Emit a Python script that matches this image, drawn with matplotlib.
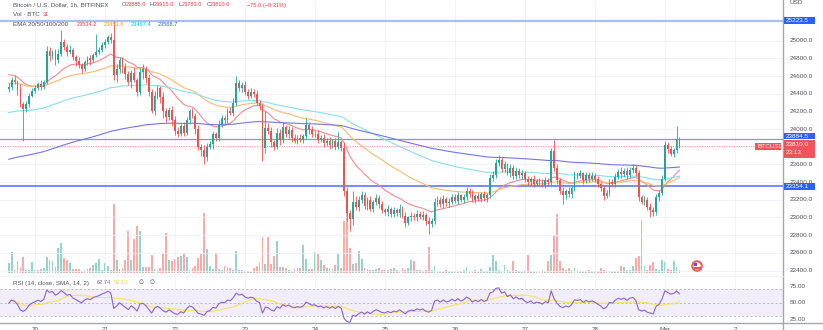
import matplotlib
matplotlib.use('Agg')
import matplotlib.pyplot as plt
from matplotlib.patches import Rectangle, Circle
from matplotlib.lines import Line2D
import numpy as np
import pandas as pd

plt.rcParams['font.family'] = ['Liberation Sans', 'DejaVu Sans']

# BTCUSD 1h candles (Bitfinex). Bar index 0 = Feb 20 00:00, first bar at -9.
first_bar = -9
first_open = 24450.0

closes = [
    # Feb 19 (tail)
    24480, 24560, 24530, 24450, 24280, 24230, 24280, 24380, 24430,
    # Feb 20
    24470, 24510, 24480, 24530, 24880, 24830, 24870, 24780, 24850, 24980, 24930, 24870,
    24900, 24810, 24770, 24720, 24680, 24760, 24800, 24780, 24840, 24870, 24900, 24950,
    # Feb 21
    24980, 25040, 25010, 24610, 24680, 24780, 24700, 24620, 24530, 24640, 24560, 24420,
    24650, 24680, 24580, 24420, 24210, 24380, 24460, 24360, 24200, 24140, 24220, 24100,
    # Feb 22
    23980, 23950, 24030, 23960, 24100, 24200, 24150, 24000, 23800, 23760, 23680, 23800,
    23830, 23940, 23900, 24050, 24120, 24100, 24200, 24180, 24300, 24520, 24460, 24500,
    # Feb 23
    24420, 24380, 24420, 24400, 24300, 24260, 23790, 24010, 23980, 23850, 23800, 23960,
    23880, 24020, 23940, 23990, 23900, 23870, 23900, 23880, 23920, 24050, 23990, 23940,
    # Feb 24
    23950, 23880, 23900, 23840, 23870, 23820, 23860, 23800, 23850, 23790, 23300, 23050,
    22980, 23180, 23120, 23200, 23250, 23130, 23200, 23100, 23170, 23220, 23150, 23080,
    # Feb 25
    23060, 23100, 23040, 23080, 23050, 23100, 23020, 22940, 23000, 23020, 23000, 23040,
    23010, 23030, 22960, 22930, 22960, 23170, 23200, 23150, 23210, 23160, 23180, 23230,
    # Feb 26
    23190, 23250, 23200, 23230, 23300, 23270, 23200, 23240, 23210, 23260, 23220, 23250,
    23450, 23480, 23620, 23650, 23550, 23600, 23500, 23560, 23470, 23530, 23480, 23500,
    # Feb 27
    23430, 23400, 23440, 23380, 23410, 23400, 23370, 23420, 23400, 23750, 23560, 23420,
    23300, 23250, 23300, 23260, 23330, 23490, 23470, 23500, 23420, 23480, 23440, 23470,
    # Feb 28
    23430, 23380, 23330, 23240, 23280, 23400, 23380, 23460, 23520, 23490, 23530, 23480,
    23540, 23560, 23500, 23230, 23180, 23200, 23120, 23090, 23060, 23230, 23280, 23440,
    # Mar 1
    23820, 23770, 23720, 23760, 23885, 23810,
]

# distance from body top to high / body bottom to low, USD
wick_up = [
    40, 30, 50, 20, 60, 30, 40, 30, 40,
    30, 20, 40, 20, 60, 50, 30, 40, 60, 140, 40, 30, 50, 20, 30, 40, 30, 20, 30, 40, 20, 210, 30, 40,
    40, 30, 50, 213.5, 60, 40, 30, 50, 40, 30, 60, 20, 40, 60, 30, 40, 30, 50, 40, 30, 60, 40, 30, 40,
    50, 40, 30, 50, 40, 30, 40, 30, 50, 30, 60, 40, 30, 40, 30, 50, 40, 30, 40, 50, 50, 80, 40, 30,
    40, 30, 50, 30, 40, 30, 40, 190, 60, 40, 30, 50, 40, 60, 30, 40, 30, 40, 30, 40, 30, 80, 30, 40,
    30, 40, 30, 40, 30, 40, 30, 40, 120, 30, 60, 40, 30, 120, 60, 40, 50, 40, 30, 40, 30, 40, 30, 40,
    30, 40, 20, 40, 30, 50, 30, 40, 20, 40, 30, 40, 30, 40, 20, 40, 30, 50, 40, 30, 40, 20, 40, 30,
    30, 40, 20, 40, 50, 30, 40, 20, 40, 30, 40, 30, 40, 50, 40, 60, 30, 40, 20, 40, 30, 40, 30, 40,
    30, 40, 20, 40, 30, 40, 30, 40, 30, 40, 130, 40, 30, 40, 20, 40, 30, 40, 30, 40, 20, 40, 30, 40,
    30, 40, 20, 40, 30, 40, 30, 40, 30, 50, 30, 40, 30, 40, 30, 40, 20, 40, 30, 40, 30, 40, 30, 40,
    40, 30, 40, 30, 145, 30,
]
wick_dn = [
    30, 40, 20, 60, 30, 360, 40, 30, 20,
    20, 30, 40, 30, 20, 60, 40, 50, 30, 20, 30, 40, 20, 30, 60, 30, 40, 20, 30, 50, 20, 30, 20, 30,
    30, 20, 40, 60, 80, 40, 60, 50, 30, 60, 30, 40, 30, 80, 60, 40, 30, 50, 40, 70, 80, 60, 40, 60,
    50, 40, 30, 40, 30, 40, 30, 60, 40, 60, 80, 40, 30, 60, 30, 40, 30, 40, 30, 20, 30, 40, 30, 40,
    30, 40, 30, 40, 30, 40, 150, 60, 40, 50, 40, 30, 60, 40, 30, 40, 50, 30, 40, 30, 40, 30, 40, 30,
    30, 40, 30, 40, 30, 40, 30, 40, 30, 40, 60, 90, 130, 60, 40, 50, 40, 30, 40, 30, 40, 30, 40, 30,
    30, 40, 30, 40, 30, 40, 30, 50, 30, 40, 30, 40, 30, 40, 50, 120, 40, 30, 40, 30, 40, 30, 40, 30,
    30, 40, 20, 40, 30, 40, 30, 40, 20, 40, 30, 40, 30, 40, 30, 40, 30, 40, 20, 40, 30, 40, 30, 40,
    30, 40, 30, 40, 20, 40, 30, 40, 30, 40, 30, 40, 30, 100, 40, 30, 40, 30, 40, 20, 40, 30, 40, 30,
    30, 40, 30, 40, 20, 40, 30, 40, 30, 40, 30, 40, 30, 40, 30, 40, 30, 40, 30, 80, 40, 30, 40, 30,
    30, 40, 30, 40, 30, 27,
]

volumes = [
    100, 207, 33, 117, 60, 160, 33, 27, 107,
    27, 27, 40, 50, 160, 130, 120, 60, 250, 300, 150, 130, 100, 40, 40, 40, 25, 30, 40, 50, 80, 100, 140, 30,
    100, 70, 30, 690, 130, 40, 50, 130, 420, 130, 340, 470, 420, 60, 60, 60, 180, 40, 30, 50, 200, 400, 130, 120,
    140, 160, 170, 200, 160, 30, 50, 70, 150, 200, 600, 240, 70, 40, 200, 40, 30, 70, 60, 50, 30, 220, 30, 30,
    20, 20, 15, 50, 70, 100, 360, 90, 360, 90, 170, 320, 60, 60, 50, 30, 20, 40, 50, 50, 280, 140, 40, 40,
    210, 190, 130, 80, 50, 50, 40, 80, 200, 50, 520, 620, 250, 90, 100, 220, 140, 50, 40, 30, 30, 40, 50, 30,
    30, 30, 40, 50, 30, 20, 50, 30, 50, 130, 120, 30, 30, 20, 30, 260, 30, 70, 20, 20, 20, 30, 20, 20,
    20, 20, 20, 30, 60, 20, 20, 30, 20, 40, 20, 20, 60, 180, 120, 30, 20, 80, 30, 20, 120, 30, 20, 20,
    30, 180, 20, 20, 20, 20, 30, 20, 120, 180, 380, 590, 120, 50, 30, 50, 30, 50, 30, 20, 20, 20, 30, 20,
    20, 20, 50, 30, 20, 20, 20, 20, 20, 70, 60, 30, 30, 70, 150, 170, 530, 70, 30, 80, 110, 40, 30, 130,
    110, 40, 30, 120, 60, 31,
]

ema_periods = [20, 50, 100, 200]
ema_start = [24630, 24520, 24180, 23650]
ema_last = [23534.2, 23451.6, 23467.4, 23568.7]
ema_lines = ['#f58a8e', '#ffb870', '#86e0ea', '#7474ee']
ema_text = ['#f23645', '#ff9800', '#00bcd4', '#2962ff']

rsi_period = 14
rsi_sma = 14
rsi_last = 62.74
rsi_sma_last = 52.13
ohlc_last = [('O', 23885.0), ('H', 23915.0), ('L', 23783.0), ('C', 23810.0)]
change = '\u221275.0 (\u22120.31%)'
day_labels = ['20', '21', '22', '23', '24', '25', '26', '27', '28', 'Mar', '2']
price_ticks = [25000, 24800, 24600, 24400, 24200, 24000, 23600,
               23400, 23200, 23000, 22800, 22600, 22400]
rsi_ticks = [75, 50, 25]
levels = [25223.5, 23884.5, 23354.1]
last_price = 23810.0
countdown = '23:13'

UP, DOWN = '#26a69a', '#ef5350'
UP_VOL, DOWN_VOL = '#95d3cd', '#f8aba9'
TXT = '#50535e'
FS = 4.6        # scales
FS_LBL = 4.5    # legend captions
FS_NUM = 4.1    # legend values
W, H = 823, 330


def fx(x):
    return x / W


def fy(y):
    return 1 - y / H


def ema(values, period, start):
    k = 2 / (period + 1)
    cur = start
    out = []
    for v in values:
        cur += k * (v - cur)
        out.append(cur)
    return np.array(out)


def rsi(values, period, prev):
    gain, loss = 30.0, 33.0
    out = []
    for v in values:
        d = v - prev
        gain = (gain * (period - 1) + max(d, 0)) / period
        loss = (loss * (period - 1) + max(-d, 0)) / period
        out.append(100 - 100 / (1 + gain / loss))
        prev = v
    return np.array(out)


closes = np.array(closes, dtype=float)
opens = np.concatenate([[first_open], closes[:-1]])
highs = np.maximum(opens, closes) + np.array(wick_up)
lows = np.minimum(opens, closes) - np.array(wick_dn)
xs = np.arange(first_bar, first_bar + len(closes))
rising = closes >= opens
day_pos = [24 * i for i in range(len(day_labels))]

fig = plt.figure(figsize=(W / 100, H / 100), dpi=100)
fig.patch.set_facecolor('white')

rect_price = [0, fy(276), fx(783), 276 / H]
rect_rsi = [0, fy(323), fx(783), 47 / H]

# volume sits underneath the candles in the same pane
ax_vol = fig.add_axes(rect_price)
ax_vol.bar(xs, volumes, width=0.62, color=np.where(rising, UP_VOL, DOWN_VOL), linewidth=0)
ax_vol.set_xlim(-12, 256.5)
ax_vol.set_ylim(-30, 2730)
ax_vol.axis('off')

ax = fig.add_axes(rect_price)
ax.patch.set_visible(False)
ax.set_xlim(-12, 256.5)
ax.set_ylim(22337.8, 25460.5)
ax.set_xticks(day_pos)
ax.set_yticks(price_ticks + [23800])
ax.tick_params(length=0, labelleft=False, labelbottom=False)
ax.grid(color='#eef1f6', linewidth=0.6)
ax.set_axisbelow(True)
for s in ax.spines.values():
    s.set_visible(False)

# horizontal levels
ax.axhline(levels[0], color='#a9bdff', lw=1.6, zorder=2)
ax.axhline(levels[1], color='#7d97f7', lw=0.9, zorder=2)
ax.axhline(levels[2], color='#4f6ff0', lw=1.1, zorder=2)
ax.axhline(last_price, color='#f4a3a3', lw=0.8, ls=(0, (1, 1.2)), zorder=2)

# moving averages
for period, start, col in zip(ema_periods, ema_start, ema_lines):
    ax.plot(xs, ema(closes, period, start), color=col, lw=0.8, zorder=3)

# candles
colors = np.where(rising, UP, DOWN)
ax.vlines(xs, lows, highs, colors=colors, lw=0.6, zorder=4)
body = np.maximum(np.abs(closes - opens), 10)
ax.bar(xs, body, bottom=np.minimum(opens, closes), width=0.62, color=colors,
       linewidth=0, zorder=5)

# price scale labels
for p in price_ticks:
    ax.text(1.008, p, f'{p:.1f}', transform=ax.get_yaxis_transform(), fontsize=FS,
            color=TXT, va='center', ha='left', clip_on=False)

# RSI pane
ax_r = fig.add_axes(rect_rsi)
rsi_vals = rsi(closes, rsi_period, first_open)
rsi_avg = pd.Series(rsi_vals).rolling(rsi_sma, min_periods=1).mean().values
ax_r.set_xlim(-12, 256.5)
ax_r.set_ylim(19.6, 90)
ax_r.axhspan(30, 70, color='#f1edf9', lw=0, zorder=0)
for lvl in (70, 50, 30):
    ax_r.axhline(lvl, color='#b2b5be', lw=0.6, ls=(0, (2.5, 2.5)), zorder=1)
ax_r.plot(xs, rsi_avg, color='#f9e45c', lw=0.8, zorder=2)
ax_r.plot(xs, rsi_vals, color='#8a63cf', lw=0.8, zorder=3)
ax_r.set_xticks(day_pos)
ax_r.set_yticks([])
ax_r.tick_params(length=0, labelleft=False, labelbottom=False)
ax_r.grid(axis='x', color='#eef1f6', linewidth=0.6)
ax_r.set_axisbelow(True)
for s in ax_r.spines.values():
    s.set_visible(False)
for v in rsi_ticks:
    ax_r.text(1.008, v, f'{v:.2f}', transform=ax_r.get_yaxis_transform(), fontsize=FS,
              color=TXT, va='center', ha='left', clip_on=False)

# scale frame lines
fig.add_artist(Line2D([fx(783), fx(783)], [0, 1], color='#a3a6af', lw=1.0, zorder=3))
fig.add_artist(Line2D([0, 1], [fy(323), fy(323)], color='#a3a6af', lw=1.0, zorder=3))
fig.add_artist(Line2D([0, fx(783)], [fy(276), fy(276)], color='#f0f2f6', lw=0.6, zorder=3))

# time axis labels, their lower half runs past the bottom edge
for i, lab in enumerate(day_labels):
    fig.text(fx(35 + 70 * i), fy(327.3), lab, fontsize=FS, color=TXT, ha='center', va='top')


def text(x, y, s, color=TXT, size=FS, **kw):
    fig.text(fx(x), fy(y), s, fontsize=size, color=color, va='center', ha='left',
             zorder=7, **kw)


def tag(x0, y0, x1, y1, color):
    fig.add_artist(Rectangle((fx(x0), fy(y1)), (x1 - x0) / W, (y1 - y0) / H,
                             transform=fig.transFigure, color=color, lw=0, zorder=6))


# legend rows
text(13, 5, 'Bitcoin / U.S. Dollar, 1h, BITFINEX', size=FS_LBL)
for (letter, val), x in zip(ohlc_last, [122, 150, 178.5, 206.5]):
    text(x, 5, letter, size=FS_NUM)
    text(x + 3.6, 5, f'{val:.1f}', color='#f23645', size=FS_NUM)
text(247, 5, change, color='#f23645', size=FS_NUM)
text(13, 15, 'Vol \u00b7 BTC', size=FS_LBL)
text(43, 15, f'{volumes[-1]}', color='#f23645', size=FS_NUM)
text(13, 24.5, 'EMA 20/50/100/200', size=FS_LBL)
for val, col, x in zip(ema_last, ema_text, [77, 104, 131, 158]):
    text(x, 24.5, f'{val:.1f}', color=col, size=FS_NUM)

text(13, 283, 'RSI (14, close, SMA, 14, 2)', size=FS_LBL)
text(97, 283, f'{rsi_last:.2f}', color='#7e57c2', size=FS_NUM)
text(113.5, 283, f'{rsi_sma_last:.2f}', color='#e8cf2a', size=FS_NUM)
text(139, 283, '\u2205', size=FS_NUM)
text(150, 283, '\u2205', size=FS_NUM)

text(789, 2.5, 'USD')

# price tags on the scale
tag(783.5, 17, 815, 24, '#2962ff')
text(786, 20.5, f'{levels[0]:.1f}', color='white')
tag(783.5, 132.7, 815, 139.3, '#2962ff')
text(786, 136, f'{levels[1]:.1f}', color='white')
tag(783.5, 140, 815, 157.5, '#f0545a')
text(786, 144.5, f'{last_price:.1f}', color='white')
text(786, 153, countdown, color='white')
tag(755, 142.5, 781, 149.5, '#f0545a')
text(757.5, 146, 'BTCUSD', color='white')
tag(783.5, 182.7, 815, 189.7, '#2962ff')
text(786, 186.2, f'{levels[2]:.1f}', color='white')

# flag marker for upcoming US economic events
fig.add_artist(Circle((697, H - 266), 5.2, transform=None, facecolor='#f36a74',
                      edgecolor='#f0545a', lw=0.8, zorder=6))
fig.add_artist(Circle((697, H - 266), 3.6, transform=None, facecolor='white',
                      edgecolor='none', zorder=7))
fig.add_artist(Rectangle((693.8, H - 266), 3.0, 2.6, transform=None, facecolor='#3d5ae8',
                         lw=0, zorder=8))
for dy in (-2.2, -0.8):
    fig.add_artist(Line2D([693.8, 700.2], [H - 266 + dy, H - 266 + dy], transform=None,
                          color='#f0545a', lw=0.8, zorder=8))

fig.savefig('out.png', dpi=100, facecolor='white')
